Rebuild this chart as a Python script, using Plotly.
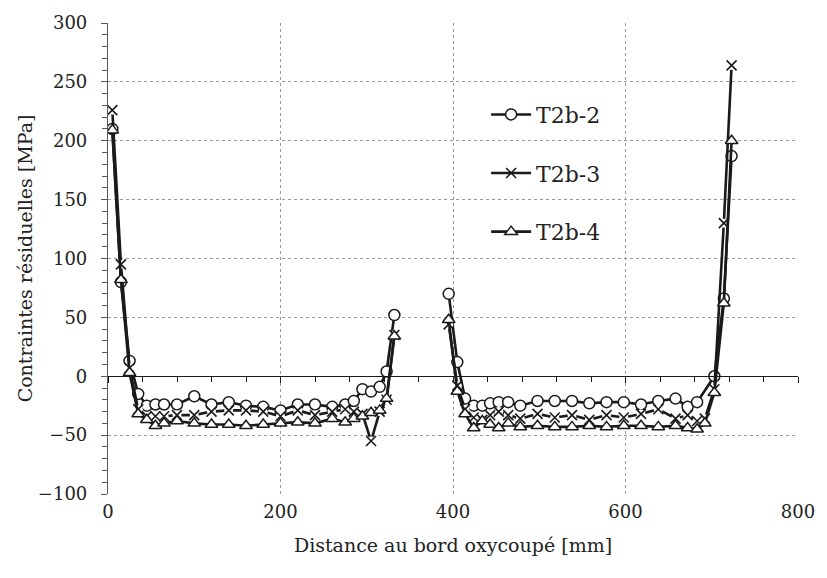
import plotly.graph_objects as go

# Distances from the flame-cut edge [mm] and residual stresses [MPa]
# Two measurement zones per specimen, separated by a gap.
x_t2b2_a = [5, 15, 25, 35, 45, 55, 65, 80, 100, 120, 140, 160, 180, 200, 220, 240, 260, 275, 285, 295, 305, 315, 323, 332]
y_t2b2_a = [210, 80, 13, -15, -25, -24, -24, -24, -17, -24, -22, -25, -26, -29, -24, -24, -26, -24, -21, -11, -13, -9, 4, 52]
x_t2b2_b = [395, 405, 414, 424, 434, 443, 453, 464, 478, 498, 518, 538, 558, 578, 598, 618, 638, 658, 672, 683, 703, 714, 723]
y_t2b2_b = [70, 12, -19, -25, -25, -23, -22, -22, -25, -21, -21, -21, -23, -22, -22, -24, -21, -19, -26, -22, 0, 66, 187]

x_t2b3_a = [5, 15, 25, 35, 45, 55, 65, 80, 100, 120, 140, 160, 180, 200, 220, 240, 260, 275, 285, 295, 305, 315, 323, 332]
y_t2b3_a = [226, 95, 7, -28, -34, -34, -34, -33, -33, -30, -29, -29, -30, -34, -29, -33, -30, -28, -30, -32, -55, -30, -20, 35]
x_t2b3_b = [395, 405, 414, 424, 434, 443, 453, 464, 478, 498, 518, 538, 558, 578, 598, 618, 638, 658, 672, 683, 692, 703, 714, 723]
y_t2b3_b = [44, -8, -28, -35, -37, -33, -30, -33, -36, -32, -35, -33, -37, -33, -35, -32, -28, -36, -33, -38, -36, -11, 130, 264]

x_t2b4_a = [5, 15, 25, 35, 45, 55, 65, 80, 100, 120, 140, 160, 180, 200, 220, 240, 260, 275, 285, 295, 305, 315, 323, 332]
y_t2b4_a = [209, 82, 3, -32, -37, -42, -40, -38, -40, -41, -41, -42, -41, -40, -39, -40, -36, -39, -36, -34, -31, -29, -19, 34]
x_t2b4_b = [395, 405, 414, 424, 434, 443, 453, 464, 478, 498, 518, 538, 558, 578, 598, 618, 638, 658, 672, 683, 692, 703, 714, 723]
y_t2b4_b = [48, -13, -32, -44, -38, -41, -44, -40, -43, -42, -43, -43, -42, -43, -42, -42, -43, -42, -44, -45, -40, -14, 62, 200]

series_names = ["T2b-2", "T2b-3", "T2b-4"]

FONT = "DejaVu Serif"
INK = "#1a1a1a"
TEXT = "#222222"
AXIS = "#595959"
GRID = "#9a9a9a"
LINE_W = 2.6


def joined(xa, ya, xb, yb):
    # None breaks the line between the two measurement zones
    return xa + [None] + xb, ya + [None] + yb


fig = go.Figure()

# invisible trace so the zero-line axis (x2) is instantiated
fig.add_trace(go.Scatter(x=[0, 800], y=[0, 0], xaxis="x2", yaxis="y", mode="lines",
                         line=dict(width=0), hoverinfo="skip", showlegend=False))

# T2b-2: open circles on a solid line
xs, ys = joined(x_t2b2_a, y_t2b2_a, x_t2b2_b, y_t2b2_b)
fig.add_trace(go.Scatter(
    x=xs, y=ys, name=series_names[0], legendgroup="g1", mode="lines+markers", connectgaps=False,
    line=dict(color=INK, width=LINE_W),
    marker=dict(symbol="circle", color="white", size=11, line=dict(color=INK, width=1.5)),
))

# T2b-3: crosses; the line is broken by a small white halo round each cross
xs, ys = joined(x_t2b3_a, y_t2b3_a, x_t2b3_b, y_t2b3_b)
fig.add_trace(go.Scatter(
    x=xs, y=ys, mode="lines+markers", connectgaps=False, showlegend=False,
    line=dict(color=INK, width=LINE_W), hoverinfo="skip",
    marker=dict(symbol="circle", color="white", size=9, line=dict(width=0)),
))
fig.add_trace(go.Scatter(
    x=xs, y=ys, name=series_names[1], mode="markers", showlegend=False,
    marker=dict(symbol="x-thin", color=INK, size=10, line=dict(color=INK, width=1.6)),
))
# legend entry for T2b-3
fig.add_trace(go.Scatter(
    x=[None], y=[None], name=series_names[1], legendgroup="g2", mode="lines+markers",
    line=dict(color=INK, width=LINE_W),
    marker=dict(symbol="x-thin", color=INK, size=10, line=dict(color=INK, width=1.6)),
))

# T2b-4: open triangles on a solid line
xs, ys = joined(x_t2b4_a, y_t2b4_a, x_t2b4_b, y_t2b4_b)
fig.add_trace(go.Scatter(
    x=xs, y=ys, name=series_names[2], legendgroup="g3", mode="lines+markers", connectgaps=False,
    line=dict(color=INK, width=LINE_W),
    marker=dict(symbol="triangle-up", color="white", size=11, line=dict(color=INK, width=1.5)),
))

fig.update_layout(
    width=827, height=578,
    margin=dict(l=108, r=20, t=19, b=84),
    paper_bgcolor="white", plot_bgcolor="white",
    font=dict(family=FONT, color=TEXT, size=18),
    showlegend=True,
    legend=dict(x=0.548, y=0.85, xanchor="left", yanchor="top",
                bgcolor="rgba(0,0,0,0)", font=dict(size=22, family=FONT, color=TEXT),
                tracegroupgap=27, itemwidth=40),
    xaxis=dict(range=[0, 800], dtick=200, tick0=0, showgrid=True, gridcolor=GRID,
               griddash="dot", gridwidth=1, showline=False, zeroline=False,
               ticks="", tickfont=dict(size=18, family=FONT), ticklabelstandoff=5,
               title=dict(text="Distance au bord oxycoupé [mm]", font=dict(size=19, family=FONT),
                          standoff=17)),
    xaxis2=dict(range=[0, 800], overlaying="x", anchor="free", position=0.25,
                showline=True, linecolor=INK, linewidth=1.2, showgrid=False, zeroline=False,
                ticks="outside", ticklen=6, tickcolor=INK, dtick=200, tick0=0,
                minor=dict(dtick=40, ticks="outside", ticklen=5, tickcolor=INK, showgrid=False),
                showticklabels=False),
    yaxis=dict(range=[-100, 300], dtick=50, tick0=0, showgrid=True, gridcolor=GRID,
               griddash="dot", gridwidth=1, showline=True, linecolor=AXIS, linewidth=1.2,
               zeroline=False, ticks="outside", ticklen=6, tickcolor=AXIS,
               minor=dict(dtick=10, ticks="outside", ticklen=5, tickcolor=AXIS, showgrid=False),
               tickfont=dict(size=18, family=FONT), ticklabelstandoff=10,
               title=dict(text="Contraintes résiduelles [MPa]", font=dict(size=19, family=FONT),
                          standoff=0)),
)

fig.write_html("out.html")
